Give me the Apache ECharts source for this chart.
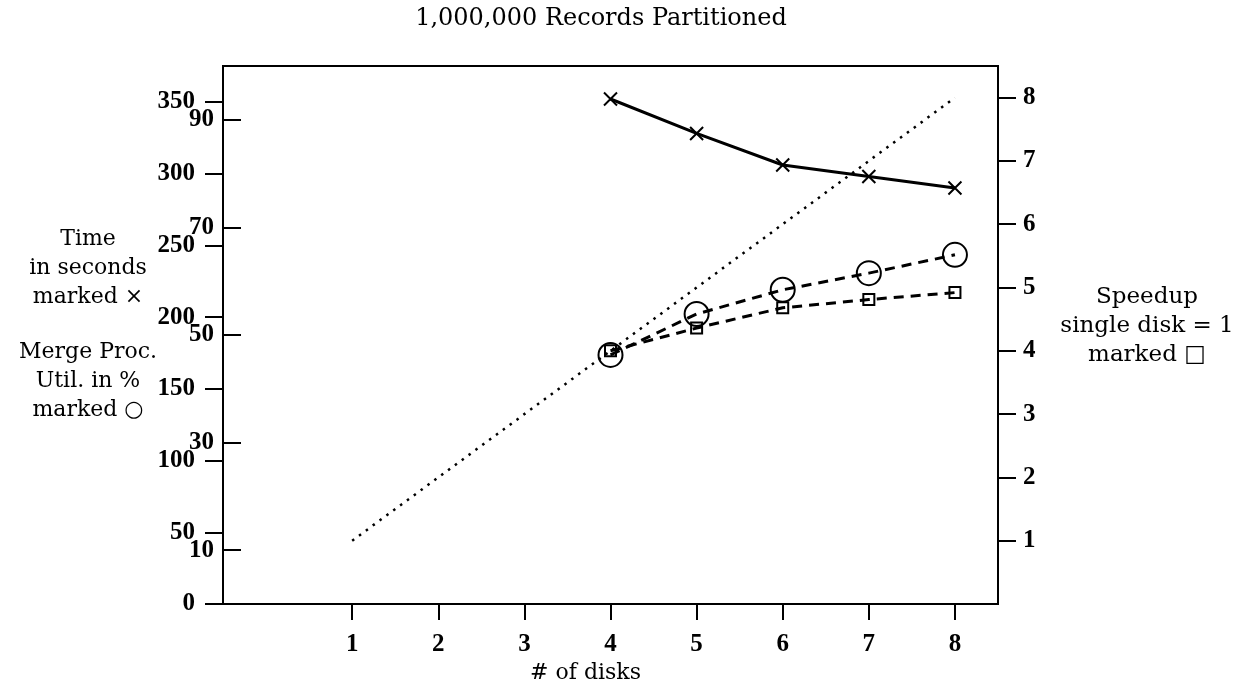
<!DOCTYPE html>
<html><head><meta charset="utf-8">
<script src="https://cdn.jsdelivr.net/npm/echarts@6/dist/echarts.min.js"></script>
<style>html,body{margin:0;padding:0;background:#fff}#c{width:1253px;height:692px}</style>
</head><body><div id="c"></div>
<script>
// ---- data ----
const disks = [4, 5, 6, 7, 8];
const timeSec = [352, 328, 306, 298, 290];      // marked x, left outer scale
const utilPct = [46.3, 53.9, 58.4, 61.5, 64.9]; // marked o, left inner scale
const speedup = [4.0, 4.36, 4.68, 4.81, 4.92];  // marked square, right scale
const idealDisks = [1, 8];
const idealSpeedup = [1, 8];
const xTicks = [1, 2, 3, 4, 5, 6, 7, 8];
const timeTicks = [0, 50, 100, 150, 200, 250, 300, 350];
const utilTicks = [10, 30, 50, 70, 90];
const speedTicks = [1, 2, 3, 4, 5, 6, 7, 8];

const SERIF = '"DejaVu Serif", "Liberation Serif", serif';
const TICKSERIF = '"Liberation Serif", "DejaVu Serif", serif';
const tickFont = { fontFamily: TICKSERIF, fontWeight: 'bold', fontSize: 25, color: '#000' };
const zip = (a, b) => a.map((v, i) => [v, b[i]]);
const axisStroke = { color: '#000', width: 2 };

const chart = echarts.init(document.getElementById('c'), null, { renderer: 'canvas' });
chart.setOption({
  backgroundColor: '#fff',
  animation: false,
  grid: { left: 223, right: 255, top: 66, bottom: 88, show: true, borderColor: '#000', borderWidth: 2, backgroundColor: 'transparent' },
  xAxis: {
    type: 'value', min: -0.5, max: 8.5,
    axisLine: { show: true, onZero: false, lineStyle: axisStroke },
    axisTick: { show: true, inside: false, length: 16, customValues: xTicks, lineStyle: axisStroke },
    axisLabel: { customValues: xTicks, margin: 28, ...tickFont },
    splitLine: { show: false },
    name: '# of disks', nameLocation: 'middle', nameGap: 57,
    nameTextStyle: { fontFamily: SERIF, fontSize: 22, color: '#000', padding: [0, 50, 0, 0] }
  },
  yAxis: [
    { type: 'value', position: 'left', min: 0, max: 375,
      axisLine: { show: true, onZero: false, lineStyle: axisStroke },
      axisTick: { show: true, inside: false, length: 18, customValues: timeTicks, lineStyle: axisStroke },
      axisLabel: { customValues: timeTicks, margin: 28, ...tickFont },
      splitLine: { show: false } },
    { type: 'value', position: 'left', min: 0, max: 100,
      axisLine: { show: false, onZero: false },
      axisTick: { show: true, inside: true, length: 18, customValues: utilTicks, lineStyle: axisStroke },
      axisLabel: { customValues: utilTicks, margin: 9, ...tickFont },
      splitLine: { show: false } },
    { type: 'value', position: 'right', min: 0, max: 8.5,
      axisLine: { show: true, onZero: false, lineStyle: axisStroke },
      axisTick: { show: true, inside: false, length: 18, customValues: speedTicks, lineStyle: axisStroke },
      axisLabel: { customValues: speedTicks, margin: 25, ...tickFont },
      splitLine: { show: false } }
  ],
  series: [
    { name: 'ideal', type: 'line', yAxisIndex: 2, data: zip(idealDisks, idealSpeedup), symbol: 'none',
      lineStyle: { color: '#000', width: 2.5, type: [2.5, 6] } },
    { name: 'time', type: 'line', yAxisIndex: 0, data: zip(disks, timeSec),
      symbol: 'path://M0,0L10,10M10,0L0,10', symbolSize: 13,
      itemStyle: { color: 'transparent', borderColor: '#000', borderWidth: 2 },
      lineStyle: { color: '#000', width: 3 } },
    { name: 'util', type: 'line', yAxisIndex: 1, data: zip(disks, utilPct),
      symbol: 'circle', symbolSize: 24,
      itemStyle: { color: 'transparent', borderColor: '#000', borderWidth: 2 },
      lineStyle: { color: '#000', width: 3, type: [10, 7] } },
    { name: 'speedup', type: 'line', yAxisIndex: 2, data: zip(disks, speedup),
      symbol: 'rect', symbolSize: 11,
      itemStyle: { color: 'transparent', borderColor: '#000', borderWidth: 2 },
      lineStyle: { color: '#000', width: 3, type: [10, 7] } }
  ],
  graphic: [
    { type: 'text', x: 601, y: 19, style: { text: '1,000,000 Records Partitioned', font: '24px ' + SERIF, fill: '#000', align: 'center', verticalAlign: 'middle' } },
    { type: 'text', x: 88, y: 268, style: { text: 'Time\nin seconds\nmarked \u00D7', font: '22px ' + SERIF, fill: '#000', align: 'center', verticalAlign: 'middle', lineHeight: 29 } },
    { type: 'text', x: 88, y: 381, style: { text: 'Merge Proc.\nUtil. in %\nmarked \u25CB', font: '22px ' + SERIF, fill: '#000', align: 'center', verticalAlign: 'middle', lineHeight: 29 } },
    { type: 'text', x: 1147, y: 326, style: { text: 'Speedup\nsingle disk = 1\nmarked \u25A1', font: '23px ' + SERIF, fill: '#000', align: 'center', verticalAlign: 'middle', lineHeight: 29 } }
  ]
});
</script></body></html>
